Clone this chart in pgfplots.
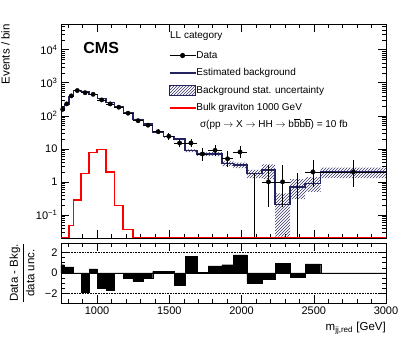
\documentclass[border=0pt]{standalone}
\usepackage{fontspec}
\setmainfont{Liberation Sans}
\usepackage{pgfplots}
\pgfplotsset{compat=1.18}
\usepackage{pgfplotstable}
\usepgfplotslibrary{fillbetween}
\usetikzlibrary{patterns}

\definecolor{bkgblue}{RGB}{35,35,95}
\definecolor{hatchblue}{RGB}{55,55,105}
\definecolor{sigred}{RGB}{255,0,0}

% background estimate: left bin edge, value, stat. band
\pgfplotstableread{
xl    bkg    lo     hi
750   147    142    152
774   220    213    227
805   388    378    398
837   580    566    594
889   543    530    556
944   438    427    449
1001  328    319    337
1062  255    247    263
1119  182    176    188
1181  125.5  121    130
1247  77.7   74.5   81
1320  55.6   53     58.5
1385  32.1   30.3   34
1460  23.3   21.8   24.8
1533  19.7   18.2   21.2
1609  8.8    7.9    9.7
1690  6.9    6.0    7.8
1770  7.0    6.0    8.0
1863  3.6    3.0    4.2
1943  3.2    2.6    3.8
2036  1.78   1.3    2.3
2140  2.3    1.2    3.4
2232  0.21   0.022  0.45
2336  0.7    0.3    1.2
2440  0.9    0.5    1.4
2548  2.0    1.3    2.7
3000  2.0    1.3    2.7
}\bkgtable

% bulk graviton 1000 GeV, bin edges written out as steps
\pgfplotstableread{
x     sig
750   0.0201
805   0.0201
805   0.048
837   0.048
837   0.28
889   0.28
889   1.78
944   1.78
944   7.8
1001  7.8
1001  9.5
1062  9.5
1062  2.0
1119  2.0
1119  0.19
1181  0.19
1181  0.036
1247  0.036
1247  0.0201
3000  0.0201
}\sigtable

% observed data: bin centre, half width, count, poisson errors
\pgfplotstableread{
x       ex    y     eyp    eym
762     12    157   13.5   12.5
789.5   15.5  229   16.1   15.1
821     16    400   21     20
863     26    580   25.1   24.1
916.5   27.5  500   23.4   22.4
972.5   28.5  446   22.1   21.1
1031.5  30.5  302   18.4   17.4
1090.5  28.5  229   16.1   15.1
1150    31    182   14.5   13.5
1214    33    120   12.0   10.9
1283.5  36.5  71    9.5    8.4
1352.5  32.5  52    8.3    7.2
1422.5  37.5  33    6.8    5.7
1496.5  36.5  24    5.9    4.9
1571    38    15    5.0    3.8
1649.5  40.5  15    5.0    3.8
1730    40    7     3.8    2.6
1816.5  46.5  9     4.1    2.9
1903    40    5     3.4    2.2
1989.5  46.5  8     4.0    2.8
2186    46    1     2.3    0.83
2284    52    1     2.3    0.83
2494    54    2     2.6    1.3
2774    226   2     2.6    1.3
}\datatable

% (data - bkg) / data unc.
\pgfplotstableread{
xl    pull
750   0.8
774   0.6
805   0.6
837   0
889   -1.9
944   0.4
1001  -1.5
1062  -1.7
1119  0
1181  -0.5
1247  -0.8
1320  -0.5
1385  0.15
1460  0.15
1533  -1.2
1609  1.6
1690  0.05
1770  0.7
1863  0.8
1943  1.75
2036  -0.96
2140  -0.58
2232  0.9
2336  -0.4
2440  0.87
2548  0
3000  0
}\pulltable

\pgfplotsset{
  cmsstyle/.style={
    scale only axis, width=325pt,
    xmin=750, xmax=3000,
    tick align=inside, xtick pos=both, ytick pos=both,
    major tick length=8pt, minor tick length=4pt,
    tick style={black, line width=0.5pt},
    axis line style={line width=0.6pt},
    tick label style={font=\fontsize{11}{13}\selectfont},
    xtick={1000,1500,2000,2500,3000},
    minor xtick={800,900,1100,1200,1300,1400,1600,1700,1800,1900,2100,2200,2300,2400,2600,2700,2800,2900},
  },
}

\begin{document}
\begin{tikzpicture}
\begin{axis}[cmsstyle,
  name=main, at={(0,0)}, anchor=south west, height=214pt,
  ymode=log, ymin=0.02, ymax=6e4,
  xticklabels={},
  ytick={0.1,1,10,100,1000,10000},
  yticklabels={10\textsuperscript{−1},1,10,10\textsuperscript{2},10\textsuperscript{3},10\textsuperscript{4}},
  minor ytick={0.02,0.03,0.04,0.05,0.06,0.07,0.08,0.09,
    0.2,0.3,0.4,0.5,0.6,0.7,0.8,0.9,2,3,4,5,6,7,8,9,
    20,30,40,50,60,70,80,90,200,300,400,500,600,700,800,900,
    2000,3000,4000,5000,6000,7000,8000,9000,20000,30000,40000,50000,60000},
  ylabel={Events / bin},
  every axis y label/.style={at={(rel axis cs:0,1)}, xshift=-51pt, rotate=90, anchor=south east, inner sep=0pt, font=\fontsize{11.5}{13}\selectfont},
  legend style={at={(rel axis cs:0.331,0.877)}, anchor=north west, draw=none, fill=none,
    font=\fontsize{10}{12}\selectfont, inner sep=0pt, row sep=7.3pt,
    nodes={inner sep=0pt, text height=7.5pt, text depth=2.5pt},
    /tikz/every even column/.append style={column sep=9pt}},
  legend cell align=left,
  legend image code/.code={\draw[mark repeat=2,mark phase=2,#1] plot coordinates {(0pt,0pt) (13pt,0pt) (26pt,0pt)};},
]
% stat. band
\addplot[name path=up, draw=none, const plot, forget plot] table[x=xl, y=hi] {\bkgtable};
\addplot[name path=lo, draw=none, const plot, forget plot] table[x=xl, y=lo] {\bkgtable};
\addplot[pattern=north east lines, pattern color=hatchblue, draw=none, forget plot] fill between[of=up and lo];
% background
\addplot[const plot, color=bkgblue, line width=1.5pt, forget plot] table[x=xl, y=bkg] {\bkgtable};
% data
\addplot[black, only marks, mark=*, mark size=2.2pt, forget plot,
  error bars/.cd, x dir=both, x explicit, y dir=both, y explicit, error mark=none,
  error bar style={line width=0.7pt}]
  table[x=x, y=y, x error=ex, y error plus=eyp, y error minus=eym] {\datatable};
% empty bins: upper error only
\addplot[black, line width=0.7pt, forget plot] coordinates {(2088,0.001) (2088,1.84)};
\addplot[black, line width=0.7pt, forget plot] coordinates {(2388,0.001) (2388,1.84)};
% signal
\addplot[sharp plot, draw=sigred, line width=1.6pt, forget plot] table[x=x, y=sig] {\sigtable};

\addlegendimage{black, line width=0.7pt, mark=*, mark size=2.2pt}
\addlegendentry{Data}
\addlegendimage{color=bkgblue, line width=1.5pt}
\addlegendentry{Estimated background}
\addlegendimage{legend image code/.code={\draw[pattern=north east lines, pattern color=hatchblue, draw=bkgblue, line width=0.8pt] (0pt,-5pt) rectangle (26pt,5pt);}}
\addlegendentry{Background stat. uncertainty}
\addlegendimage{color=sigred, line width=1.6pt}
\addlegendentry{Bulk graviton 1000 GeV}

\node[anchor=west, font=\fontsize{10}{12}\selectfont] at (rel axis cs:0.325,0.944) {LL category};
\node[anchor=west, font=\fontsize{10}{12}\selectfont] at (rel axis cs:0.417,0.533)
  {σ(pp $\rightarrow$ X $\rightarrow$ HH $\rightarrow$ b$\overline{\mbox{b}}$b$\overline{\mbox{b}}$) = 10 fb};
\node[anchor=west, font=\fontsize{16}{18}\bfseries\selectfont] at (rel axis cs:0.058,0.886) {CMS};
\node[anchor=base east, xshift=20pt, yshift=8pt, font=\fontsize{10.5}{12}\selectfont] at (rel axis cs:1,1) {35.9 fb\textsuperscript{-1} (13 TeV)};
\end{axis}

\begin{axis}[cmsstyle,
  name=ratio, at={(0,-5pt)}, anchor=north west, height=60pt,
  ymin=-2.9, ymax=2.9,
  ytick={-2,0,2}, yticklabels={−2,0,2}, minor y tick num=3,
  xticklabels={1000,1500,2000,2500,3000},
  xlabel={m\textsubscript{jj,red} [GeV]},
  every axis x label/.style={at={(rel axis cs:1,0)}, yshift=-19pt, anchor=north east, inner sep=0pt, font=\fontsize{11.5}{13}\selectfont},
  ylabel={$\displaystyle\frac{\mbox{Data - Bkg.}}{\mbox{data unc.}}$},
  every axis y label/.style={at={(rel axis cs:0,0.5)}, xshift=-39pt, rotate=90, anchor=center, inner sep=0pt, font=\fontsize{11.5}{13}\selectfont},
]
\addplot[black, densely dotted, line width=0.6pt] coordinates {(750,2) (3000,2)};
\addplot[black, densely dotted, line width=0.6pt] coordinates {(750,-2) (3000,-2)};
\addplot[black, line width=0.5pt] coordinates {(750,0) (3000,0)};
\addplot[ybar interval, fill=black, draw=black] table[x=xl, y=pull] {\pulltable};
\end{axis}
\pgfresetboundingbox
\path[use as bounding box] (-61pt,-106pt) rectangle (346pt,238pt);
\end{tikzpicture}
\end{document}
